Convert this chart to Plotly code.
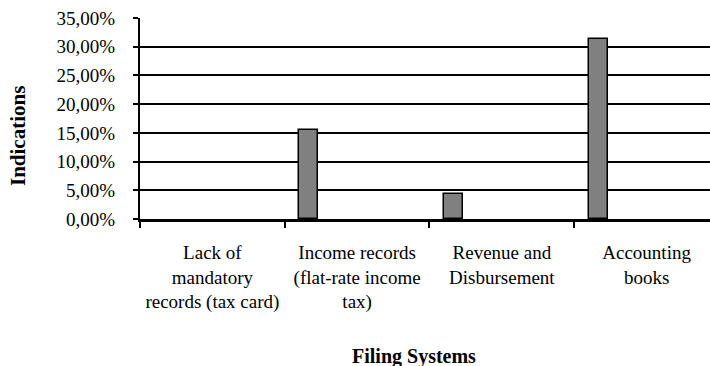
import plotly.graph_objects as go

# Share of indications per filing system
categories = [
    "Lack of<br>mandatory<br>records (tax card)",
    "Income records<br>(flat-rate income<br>tax)",
    "Revenue and<br>Disbursement",
    "Accounting<br>books",
]
shares = [0.0, 0.1556, 0.0440, 0.3130]
y_ticks = [0.0, 0.05, 0.10, 0.15, 0.20, 0.25, 0.30, 0.35]

FONT = "Liberation Serif, Times New Roman, serif"

# zero shares get no bar at all (not even an outline)
bar_heights = [v if v > 0 else None for v in shares]

fig = go.Figure(
    go.Bar(
        x=categories,
        y=bar_heights,
        width=0.133,
        offset=-0.40,
        marker=dict(color="#808080", line=dict(color="black", width=1.5)),
        showlegend=False,
    )
)

fig.update_layout(
    width=710,
    height=366,
    margin=dict(l=140, r=0, t=18, b=147),
    paper_bgcolor="white",
    plot_bgcolor="white",
    separators=", ",
    font=dict(family=FONT, size=19, color="black"),
    bargap=0,
)

fig.update_xaxes(
    type="category",
    range=[-0.5, 3.438],
    showline=True,
    linecolor="black",
    linewidth=3,
    ticks="outside",
    tickson="boundaries",
    ticklen=6,
    tickwidth=1.5,
    tickcolor="black",
    showgrid=False,
    tickangle=0,
    ticklabelstandoff=14,
)

fig.update_yaxes(
    range=[0, 0.35],
    tickvals=y_ticks,
    tickformat=".2%",
    showline=True,
    linecolor="black",
    linewidth=2,
    ticks="outside",
    ticklen=5,
    tickwidth=1.5,
    tickcolor="black",
    showgrid=True,
    gridcolor="black",
    gridwidth=1.5,
    zeroline=False,
    ticklabelstandoff=14,
)

fig.add_annotation(
    text="<b>Indications</b>",
    xref="paper", yref="paper",
    x=-0.215, y=0.415,
    xanchor="center", yanchor="middle",
    textangle=-90,
    showarrow=False,
    font=dict(family=FONT, size=21, color="black"),
)
fig.add_annotation(
    text="<b>Filing Systems</b>",
    xref="paper", yref="paper",
    x=0.4807, y=-0.683,
    xanchor="center", yanchor="middle",
    showarrow=False,
    font=dict(family=FONT, size=20, color="black"),
)

fig.write_html("out.html")
